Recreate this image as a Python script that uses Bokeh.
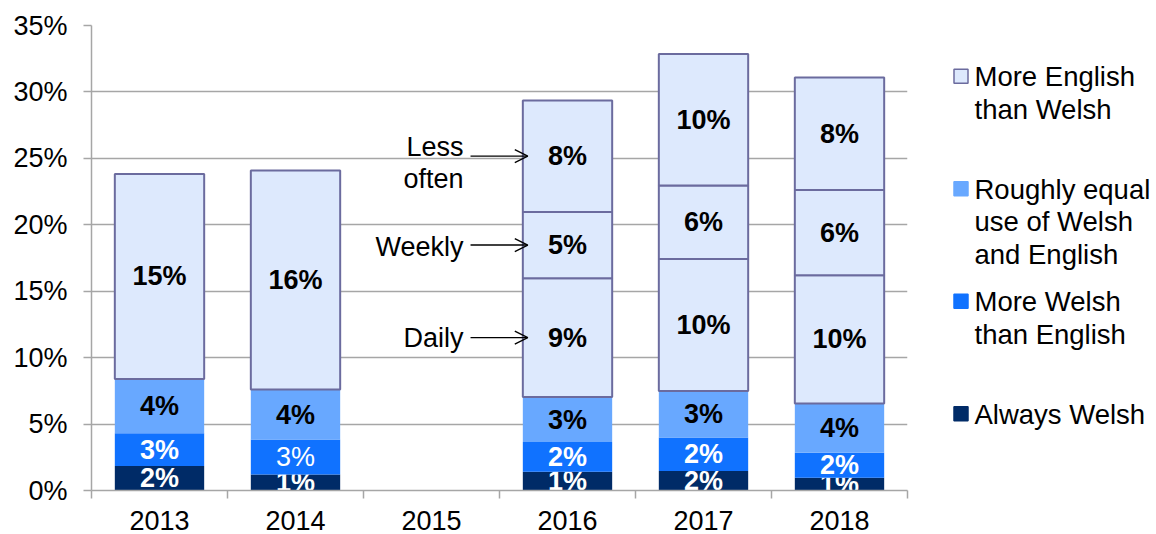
import numpy as np
from bokeh.plotting import figure
from bokeh.models import (ColumnDataSource, Range1d, FixedTicker, PrintfTickFormatter,
                          Arrow, OpenHead)
from bokeh.layouts import row
from bokeh.core.properties import value
from bokeh.embed import file_html
from bokeh.resources import INLINE

nan = float("nan")

# ---------------- data (percent of respondents) ----------------
years = ["2013", "2014", "2015", "2016", "2017", "2018"]
always_welsh = [1.85, 1.21, nan, 1.41, 1.46, 0.96]
more_welsh = [2.46, 2.62, nan, 2.24, 2.52, 1.89]
roughly_equal = [4.09, 3.77, nan, 3.38, 3.50, 3.70]
more_english = [15.43, 16.49, nan, nan, nan, nan]          # not split by frequency
more_english_daily = [nan, nan, nan, 8.95, 9.95, 9.65]
more_english_weekly = [nan, nan, nan, 4.99, 5.52, 6.42]
more_english_less_often = [nan, nan, nan, 8.39, 9.90, 8.46]

always_lbl = ["2%", "1%", "", "1%", "2%", "1%"]
more_welsh_lbl = ["3%", "3%", "", "2%", "2%", "2%"]
roughly_lbl = ["4%", "4%", "", "3%", "3%", "4%"]
more_english_lbl = ["15%", "16%", "", "", "", ""]
daily_lbl = ["", "", "", "9%", "10%", "10%"]
weekly_lbl = ["", "", "", "5%", "6%", "6%"]
less_often_lbl = ["", "", "", "8%", "10%", "8%"]

frequency_names = ["Daily", "Weekly", "Less\noften"]
frequency_year = "2016"

legend_labels = ["More English\nthan Welsh", "Roughly equal\nuse of Welsh\nand English",
                 "More Welsh\nthan English", "Always Welsh"]
y_ticks = [0, 5, 10, 15, 20, 25, 30, 35]

# ---------------- styles ----------------
NAVY = "#002b67"
BLUE = "#1072ff"
LIGHT = "#68a8ff"
PALE = "#dde9fd"
EDGE = "#6b6b9e"
GRID = "#a6a6a6"
FONT = "Liberation Sans"
FS = "27px"
more_welsh_style = ["bold", "normal", "bold", "bold", "bold", "bold"]
freq_text_offset = [0, 2, 7]   # screen px nudges for the side notes

W_MAIN, W_LEG, H = 929, 227, 534
B_LEFT, B_TOP, B_BOTTOM = 91, 25, 44

n = len(years)
xs = np.arange(n) + 0.5
BAR_W = 0.657

p = figure(width=W_MAIN, height=H, x_range=Range1d(0, n), y_range=Range1d(0, 35),
           output_backend="svg", toolbar_location=None,
           min_border_left=B_LEFT, min_border_right=W_MAIN - 907,
           min_border_top=B_TOP, min_border_bottom=B_BOTTOM)

layers = [
    (always_welsh, always_lbl, NAVY, None, "white", ["bold"] * n),
    (more_welsh, more_welsh_lbl, BLUE, None, "white", more_welsh_style),
    (roughly_equal, roughly_lbl, LIGHT, None, "black", ["bold"] * n),
    (more_english, more_english_lbl, PALE, EDGE, "black", ["bold"] * n),
    (more_english_daily, daily_lbl, PALE, EDGE, "black", ["bold"] * n),
    (more_english_weekly, weekly_lbl, PALE, EDGE, "black", ["bold"] * n),
    (more_english_less_often, less_often_lbl, PALE, EDGE, "black", ["bold"] * n),
]

running = np.zeros(n)
mids = {}
for vals, lbls, fill, edge, tcol, styles in layers:
    v = np.array(vals, dtype=float)
    mask = ~np.isnan(v)
    bottom = running.copy()
    top = running + np.nan_to_num(v)
    mid = (bottom + top) / 2
    mids[id(vals)] = mid
    src = ColumnDataSource(dict(
        x=xs[mask], bottom=bottom[mask], top=top[mask], mid=mid[mask],
        label=[l for l, m in zip(lbls, mask) if m],
        style=[s for s, m in zip(styles, mask) if m]))
    if edge is None:
        p.vbar(x="x", bottom="bottom", top="top", width=BAR_W, source=src,
               fill_color=fill, line_color=None)
    else:
        p.vbar(x="x", bottom="bottom", top="top", width=BAR_W, source=src,
               fill_color=fill, line_color=edge, line_width=2)
    p.text(x="x", y="mid", text="label", source=src, text_align="center",
           text_baseline="middle", text_font=value(FONT), text_font_size=value(FS),
           text_font_style="style", text_color=tcol)
    running = top

# frequency annotations with arrows for 2016
k = years.index(frequency_year)
xc = xs[k]
freq_y = [mids[id(more_english_daily)][k], mids[id(more_english_weekly)][k],
          mids[id(more_english_less_often)][k]]
for name, yv in zip(frequency_names, freq_y):
    p.add_layout(Arrow(end=OpenHead(size=13, line_width=1.3, line_color="black"),
                       x_start=xc - 0.713, y_start=yv, x_end=xc - 0.292, y_end=yv,
                       line_width=1.4, line_color="black"))
p.text(x=[xc - 0.765] * 3, y=freq_y, y_offset=freq_text_offset, text=frequency_names,
       text_align="right", text_baseline="middle", text_font=value(FONT),
       text_font_size=value(FS), text_line_height=1.07, text_color="black")

# axes
p.xaxis.ticker = FixedTicker(ticks=list(xs), minor_ticks=list(range(n + 1)))
p.xaxis.major_label_overrides = {float(x): y for x, y in zip(xs, years)}
p.xaxis.major_tick_line_color = None
p.xaxis.major_tick_out = 0
p.xaxis.major_tick_in = 0
p.xaxis.minor_tick_out = 8
p.xaxis.minor_tick_in = 0
p.xaxis.minor_tick_line_color = GRID
p.xaxis.minor_tick_line_width = 1.5
p.xaxis.major_label_standoff = 12

p.yaxis.ticker = FixedTicker(ticks=y_ticks)
p.yaxis.formatter = PrintfTickFormatter(format="%d%%")
p.yaxis.major_tick_out = 8
p.yaxis.major_tick_in = 0
p.yaxis.major_tick_line_color = GRID
p.yaxis.major_tick_line_width = 1.5
p.yaxis.minor_tick_line_color = None
p.yaxis.major_label_standoff = 16

for ax in (p.xaxis, p.yaxis):
    ax.axis_line_color = GRID
    ax.axis_line_width = 1.5
    ax.major_label_text_font = FONT
    ax.major_label_text_font_size = FS
    ax.major_label_text_color = "black"

p.xgrid.visible = False
p.ygrid.ticker = FixedTicker(ticks=y_ticks)
p.ygrid.grid_line_color = GRID
p.ygrid.grid_line_width = 1.5
p.outline_line_color = None

# legend panel (frame aligned with the main frame; y in page pixels)
lg = figure(width=W_LEG, height=H, x_range=Range1d(0, W_LEG),
            y_range=Range1d(H - B_BOTTOM, B_TOP),
            output_backend="svg", toolbar_location=None, x_axis_type=None, y_axis_type=None,
            min_border_left=0, min_border_right=0,
            min_border_top=B_TOP, min_border_bottom=B_BOTTOM)
lg.grid.visible = False
lg.outline_line_color = None
legend_fill = [PALE, LIGHT, BLUE, NAVY]
legend_edge = [EDGE, LIGHT, BLUE, NAVY]
sq_y = [75.8 + i * 112.5 for i in range(len(legend_labels))]
lg.scatter(x=[31.5] * 4, y=sq_y, marker="square", size=14, fill_color=legend_fill,
           line_color=legend_edge, line_width=1.5)
lg.text(x=[45] * 4, y=[yy - 15 for yy in sq_y], text=legend_labels, text_align="left",
        text_baseline="top", text_font=value(FONT), text_font_size=value("27.5px"),
        text_line_height=1.05, text_color="black")

layout = row(p, lg)
open("out.html", "w").write(file_html(layout, INLINE))
